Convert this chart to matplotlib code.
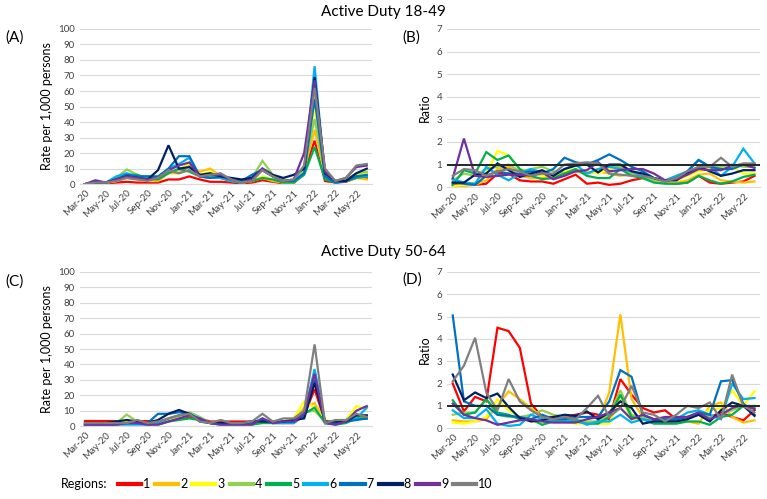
import matplotlib
matplotlib.use("Agg")
import matplotlib.pyplot as plt

plt.rcParams["font.family"] = ["Lato", "DejaVu Sans"]

months = ["Mar-20", "Apr-20", "May-20", "Jun-20", "Jul-20", "Aug-20", "Sep-20", "Oct-20",
          "Nov-20", "Dec-20", "Jan-21", "Feb-21", "Mar-21", "Apr-21", "May-21", "Jun-21",
          "Jul-21", "Aug-21", "Sep-21", "Oct-21", "Nov-21", "Dec-21", "Jan-22", "Feb-22",
          "Mar-22", "Apr-22", "May-22", "Jun-22"]
regions = ["1", "2", "3", "4", "5", "6", "7", "8", "9", "10"]
colors = ["#FF0000", "#FFC000", "#FFFF00", "#92D050", "#00B050",
          "#00B0F0", "#0070C0", "#002060", "#7030A0", "#7F7F7F"]

# (A) Active duty 18-49, rate per 1,000
rate_18_49 = [
    [0, 0.5, 0.5, 1, 1.5, 1, 1, 1, 3, 3, 5, 3, 1.5, 1.5, 1, 0.5, 1, 2.5, 1.5, 0.5, 0.5, 8, 28, 2, 1, 1.5, 4, 4],
    [0, 1, 1, 2, 4, 3, 2, 2, 7, 7, 12, 8, 10, 5, 3, 1, 2, 4, 2, 1, 1, 9, 35, 5, 1, 2, 4, 3],
    [0, 1, 1, 2, 5, 3, 2, 3, 8, 9, 14, 6, 8, 5, 3, 1, 2, 5, 3, 1, 1, 12, 50, 6, 1, 3, 6, 7],
    [0, 1, 1, 4, 9.5, 6, 4, 4, 8, 9, 11, 6, 5, 4, 2, 1, 4, 15, 6, 3, 2, 10, 42, 6, 1, 3, 7, 8],
    [0, 1, 1, 3, 6, 6, 3, 3, 7, 10, 8, 5, 4, 4, 2, 1, 2, 4, 3, 1, 1, 6, 24, 3, 1, 2, 4, 5],
    [0, 1, 1, 5, 7, 5, 5, 4, 10, 13, 17, 5, 4, 4, 2, 1, 6, 9, 5, 2, 2, 7, 76, 5, 1, 2, 5, 5],
    [0, 1, 1, 3, 6, 5, 5, 5, 10, 18, 18, 5, 4, 5, 3, 2, 6, 9, 5, 2, 2, 7, 55, 5, 1, 2, 5, 6],
    [0, 1, 1, 3, 5, 4, 3, 9, 25, 10, 11, 6, 7, 5, 4, 3, 4, 10, 6, 4, 6, 10, 69, 7, 2, 2, 7, 10],
    [0, 2.5, 1, 3, 5, 4, 3, 4, 9, 12, 14, 5, 6, 6, 3, 1, 3, 10, 5, 2, 3, 20, 67, 8, 2, 4, 11, 12],
    [0, 1, 1, 2, 4, 3, 2, 4, 9, 7, 9, 5, 6, 7, 3, 1, 2, 9, 5, 2, 3, 12, 62, 10, 2, 4, 12, 13],
]

# (B) Active duty 18-49, ratio
ratio_18_49 = [
    [0.1, 0.1, 0.1, 0.15, 0.6, 0.6, 0.3, 0.25, 0.25, 0.15, 0.35, 0.55, 0.15, 0.2, 0.1, 0.15, 0.3, 0.4, 0.3, 0.2, 0.15, 0.2, 0.5, 0.2, 0.15, 0.2, 0.25, 0.5],
    [0.0, 0.05, 0.1, 0.3, 0.8, 0.9, 0.5, 0.4, 0.4, 0.5, 0.6, 0.7, 0.6, 0.7, 0.6, 0.5, 0.6, 0.5, 0.3, 0.2, 0.2, 0.3, 0.55, 0.6, 0.3, 0.25, 0.2, 0.25],
    [0.05, 0.1, 0.2, 0.6, 1.6, 1.4, 0.8, 0.6, 0.5, 0.6, 0.7, 0.8, 0.7, 0.6, 0.8, 0.9, 0.6, 0.5, 0.3, 0.3, 0.3, 0.5, 0.7, 0.8, 0.8, 0.9, 0.6, 0.6],
    [0.3, 0.6, 0.5, 0.8, 0.9, 1.0, 0.7, 0.8, 0.9, 0.7, 0.6, 0.7, 0.6, 0.8, 0.9, 0.9, 0.6, 0.5, 0.3, 0.3, 0.4, 0.6, 0.8, 0.9, 0.9, 1.0, 0.9, 0.9],
    [0.1, 0.75, 0.6, 1.55, 1.2, 1.4, 0.8, 0.5, 0.35, 0.4, 0.6, 0.8, 0.5, 0.4, 0.4, 0.8, 0.5, 0.4, 0.2, 0.15, 0.15, 0.2, 0.5, 0.3, 0.15, 0.25, 0.45, 0.55],
    [0.35, 0.2, 0.15, 0.9, 0.55, 0.3, 0.6, 0.8, 0.65, 0.55, 0.8, 1.0, 0.6, 0.8, 0.9, 0.8, 0.7, 0.5, 0.4, 0.3, 0.5, 0.7, 1.2, 0.9, 0.5, 0.9, 1.7, 1.05],
    [0.2, 0.15, 0.1, 0.5, 0.7, 0.6, 0.6, 0.7, 0.6, 0.8, 1.3, 1.1, 1.0, 1.2, 1.45, 1.2, 0.9, 0.7, 0.4, 0.25, 0.4, 0.7, 1.2, 0.9, 0.8, 0.8, 1.0, 1.0],
    [0.2, 0.2, 0.55, 0.6, 1.05, 0.75, 0.45, 0.6, 0.75, 0.5, 0.8, 0.95, 1.0, 0.65, 1.0, 1.0, 0.7, 0.6, 0.4, 0.3, 0.3, 0.6, 0.9, 0.7, 0.5, 0.6, 0.75, 0.75],
    [0.4, 2.15, 0.5, 0.45, 0.5, 0.55, 0.55, 0.5, 0.65, 0.35, 0.5, 0.7, 0.75, 1.1, 0.7, 0.75, 0.8, 0.8, 0.6, 0.3, 0.35, 0.55, 0.8, 0.75, 0.75, 0.95, 1.0, 0.85],
    [0.5, 0.8, 0.75, 0.5, 0.7, 0.8, 0.7, 0.5, 0.6, 0.6, 1.0, 1.05, 1.1, 1.05, 0.6, 0.55, 0.5, 0.5, 0.4, 0.25, 0.4, 0.7, 0.9, 0.9, 1.3, 0.9, 1.05, 1.05],
]

# (C) Active duty 50-64, rate per 1,000
rate_50_64 = [
    [3.3, 3.3, 3.3, 3.3, 3.3, 3.3, 3.3, 3, 4, 5, 6, 5, 3, 3, 3, 3, 3, 3, 3, 2, 2, 7, 24, 3, 2, 3, 5, 5],
    [1, 1, 1, 2, 2, 2, 1, 1, 3, 5, 7, 5, 2, 2, 1, 1, 2, 3, 2, 2, 3, 12, 15, 3, 3, 3, 6, 5],
    [0, 0, 0, 2, 3, 2, 1, 1, 4, 6, 8, 5, 2, 2, 1, 1, 1, 3, 2, 3, 5, 16, 12, 4, 2, 4, 13, 11],
    [1, 1, 1, 2, 7.5, 3, 2, 2, 5, 7, 9, 6, 2, 2, 1, 1, 2, 4, 2, 3, 4, 9, 10, 3, 1, 3, 6, 7],
    [1, 1, 1, 2, 2, 2, 1, 1, 3, 4, 5, 4, 2, 1, 1, 1, 1, 2, 2, 2, 3, 8, 12, 2, 1, 2, 5, 5],
    [1, 1, 1, 1, 1, 1, 1, 2, 5, 7, 8, 5, 2, 1, 1, 1, 2, 5, 2, 2, 2, 8, 37, 3, 2, 3, 5, 12],
    [0.5, 0.5, 0.5, 1, 2, 2, 2, 8, 8, 9, 8, 4, 2, 2, 2, 2, 2, 4, 2, 3, 3, 6, 30, 2, 2, 3, 4, 5],
    [2, 2, 2, 3, 4, 3, 2, 4, 8, 10.5, 8, 3, 2, 2, 2, 2, 3, 3, 3, 3, 4, 5, 28, 3, 3, 3, 7, 7],
    [1, 1, 1, 1, 2, 2, 1, 1, 3, 5, 7, 5, 2, 1, 1, 1, 1, 5, 2, 3, 3, 8, 34, 2, 1, 3, 10, 13],
    [2, 2, 2, 2, 2, 4, 2, 3, 5, 7, 8, 3, 2, 4, 2, 2, 3, 8, 3, 5, 5, 10, 53, 2, 4, 4, 8, 6],
]

# (D) Active duty 50-64, ratio
ratio_50_64 = [
    [2.0, 0.75, 1.4, 1.2, 4.5, 4.35, 3.6, 1.1, 0.5, 0.5, 0.5, 0.6, 0.7, 0.6, 0.4, 2.2, 1.5, 0.9, 0.7, 0.8, 0.4, 0.5, 0.6, 0.5, 0.7, 0.5, 0.35, 0.8],
    [0.35, 0.3, 0.3, 0.4, 1.0, 1.65, 1.3, 0.9, 0.5, 0.4, 0.4, 0.3, 0.2, 0.3, 1.6, 5.1, 1.3, 0.5, 0.4, 0.3, 0.3, 0.3, 0.2, 1.0, 1.15, 0.5, 0.25, 0.35],
    [0.25, 0.2, 0.3, 0.5, 1.3, 0.8, 0.5, 0.3, 0.3, 0.3, 0.3, 0.2, 0.2, 0.2, 0.2, 1.4, 0.4, 0.4, 0.3, 0.3, 0.5, 0.5, 0.6, 0.8, 0.9, 1.7, 1.0, 1.65],
    [0.6, 0.7, 0.7, 1.3, 0.6, 0.5, 0.5, 0.6, 0.8, 0.6, 0.5, 0.4, 0.3, 0.3, 0.6, 1.7, 0.6, 0.5, 0.3, 0.3, 0.4, 0.5, 0.6, 0.5, 0.6, 0.8, 1.0, 1.0],
    [1.25, 0.6, 0.7, 1.3, 0.7, 0.6, 0.4, 0.4, 0.15, 0.3, 0.3, 0.3, 0.2, 0.2, 0.5, 1.5, 0.5, 0.4, 0.2, 0.2, 0.2, 0.3, 0.3, 0.15, 0.5, 0.6, 1.0, 0.9],
    [0.8, 0.45, 0.45, 0.85, 0.2, 0.1, 0.15, 0.6, 0.4, 0.3, 0.3, 0.4, 0.15, 0.3, 0.3, 0.6, 0.25, 0.4, 0.3, 0.3, 0.4, 0.7, 0.8, 0.6, 0.4, 2.0, 1.3, 1.35],
    [5.05, 1.2, 1.0, 1.0, 0.6, 0.55, 0.5, 0.4, 0.6, 0.4, 0.4, 0.5, 0.5, 0.5, 1.2, 2.6, 2.3, 0.6, 0.4, 0.4, 0.4, 0.5, 0.7, 0.6, 2.1, 2.15, 1.1, 0.6],
    [2.4, 1.25, 1.6, 1.35, 1.55, 0.95, 0.45, 0.3, 0.35, 0.5, 0.6, 0.55, 0.75, 0.4, 0.7, 1.2, 0.9, 0.2, 0.3, 0.3, 0.3, 0.4, 0.6, 0.3, 0.8, 1.15, 1.0, 0.55],
    [1.1, 0.6, 0.45, 0.35, 0.15, 0.25, 0.35, 0.4, 0.3, 0.25, 0.25, 0.25, 0.4, 0.5, 0.7, 0.9, 0.4, 0.6, 0.4, 0.5, 0.5, 0.5, 0.7, 0.4, 0.6, 0.9, 1.05, 0.85],
    [2.1, 2.8, 4.05, 1.6, 0.8, 2.2, 1.2, 0.8, 0.5, 0.4, 0.5, 0.4, 0.9, 1.45, 0.5, 0.9, 1.9, 0.7, 0.6, 0.3, 0.6, 1.0, 0.9, 1.15, 0.4, 2.4, 1.0, 0.7],
]


def draw_panel(ax, series, ylim, ystep, ylabel, ratio=False):
    x = list(range(len(months)))
    for vals, c in zip(series, colors):
        ax.plot(x, vals, color=c, lw=1.6, solid_joinstyle="miter")
    if ratio:
        ax.axhline(1, color="#262626", lw=1.4, zorder=5)
    ax.set_xlim(-0.5, len(months) - 0.5)
    ax.set_ylim(0, ylim)
    ax.set_yticks(range(0, ylim + 1, ystep))
    ax.set_xticks(x[::2])
    ax.set_xticklabels(months[::2], rotation=45, ha="right", rotation_mode="anchor")
    ax.tick_params(axis="both", labelsize=7, length=0, colors="#404040")
    ax.tick_params(axis="x", pad=3)
    ax.grid(axis="y", color="#D9D9D9", lw=0.8)
    ax.set_axisbelow(True)
    for s in ["top", "right", "left"]:
        ax.spines[s].set_visible(False)
    ax.spines["bottom"].set_color("#D9D9D9")
    ax.set_ylabel(ylabel, fontsize=9, labelpad=4)


fig = plt.figure(figsize=(7.67, 4.99), dpi=100)
axA = fig.add_axes([0.104, 0.631, 0.381, 0.311])
axB = fig.add_axes([0.583, 0.625, 0.408, 0.317])
axC = fig.add_axes([0.104, 0.146, 0.381, 0.309])
axD = fig.add_axes([0.583, 0.142, 0.408, 0.313])

draw_panel(axA, rate_18_49, 100, 10, "Rate per 1,000 persons")
draw_panel(axB, ratio_18_49, 7, 1, "Ratio", ratio=True)
draw_panel(axC, rate_50_64, 100, 10, "Rate per 1,000 persons")
draw_panel(axD, ratio_50_64, 7, 1, "Ratio", ratio=True)

fig.text(0.5, 0.975, "Active Duty 18-49", ha="center", va="center", fontsize=11)
fig.text(0.5, 0.495, "Active Duty 50-64", ha="center", va="center", fontsize=11)
fig.text(0.007, 0.924, "(A)", fontsize=11, va="center")
fig.text(0.524, 0.924, "(B)", fontsize=11, va="center")
fig.text(0.007, 0.435, "(C)", fontsize=11, va="center")
fig.text(0.524, 0.439, "(D)", fontsize=11, va="center")

handles = [plt.Line2D([], [], color=c, lw=3) for c in colors]
fig.text(0.08, 0.03, "Regions:", fontsize=9, va="center")
fig.legend(handles, regions, loc="center", bbox_to_anchor=(0.398, 0.03), ncol=10,
           frameon=False, fontsize=9, handlelength=1.85, handletextpad=0.15,
           columnspacing=0.4, borderpad=0, borderaxespad=0)

fig.savefig("out.png", dpi=100)
